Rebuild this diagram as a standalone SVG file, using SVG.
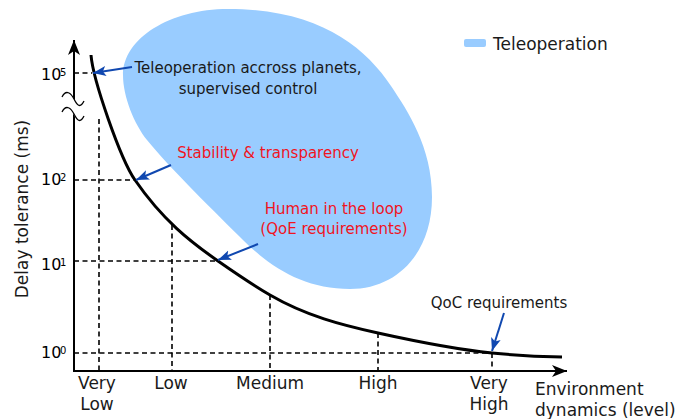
<svg xmlns="http://www.w3.org/2000/svg" width="696" height="419" viewBox="0 0 696 419">
<style>
text{font-family:"DejaVu Sans",sans-serif;fill:#1a1a1a}
.t15{font-size:15px}
.t17{font-size:17px}
.red{fill:#f0141e}
.tick{font-size:16px;fill:#000}
.sup{font-size:10px;fill:#000}
.dash{fill:none;stroke:#000;stroke-width:1.6;stroke-dasharray:5 3.5}
.ax{fill:none;stroke:#000;stroke-width:2}
.ann{fill:none;stroke:#1048b0;stroke-width:2}
</style>
<defs>
<marker id="bl" markerUnits="userSpaceOnUse" markerWidth="14" markerHeight="12" refX="13" refY="5" orient="auto">
<path d="M0,0 L13,5 L0,10 L3,5 z" fill="#1048b0"/>
</marker>
<marker id="ka" markerUnits="userSpaceOnUse" markerWidth="16" markerHeight="14" refX="15" refY="6" orient="auto">
<path d="M0,0 L15,6 L0,12 L4,6 z" fill="#000"/>
</marker>
</defs>

<g id="teleoperation-region">
<path fill="#99ccff" d="M123,75 C123,38.5 170,9 228,9 C318,9 364.3,46.1 391,86 C407.7,111 432,147 432,197 C432,252 398,289 350,289 C305,289 271.3,268.3 243,240 C218.3,215.3 168.9,167.3 147,140 C134.5,124.4 123,97 123,75 Z"/>
</g>

<g id="legend">
<rect x="464" y="39" width="22" height="8" rx="2" fill="#99ccff"/>
<text class="t17" x="493" y="50">Teleoperation</text>
</g>

<g id="grid">
<path class="dash" d="M74,73 H92 M74,180 H135 M74,261 H218 M74,353 H492"/>
<path class="dash" d="M99,119 V371 M172,225 V371 M270,295 V371 M378,333 V371 M492,353 V371"/>
</g>

<g id="axes">
<path class="ax" d="M74,372 V40" marker-end="url(#ka)"/>
<path class="ax" d="M73,371 H567" marker-end="url(#ka)"/>
<path d="M62,97 C66,89 71,93 74,99 S80,109 84,101 L84,116 C80,124 75,118 73,113 S66,103 62,112 Z" fill="#fff"/>
<path d="M62,97 C66,89 71,93 74,99 S80,109 84,101 M62,112 C66,104 71,108 74,114 S80,124 84,116" fill="none" stroke="#000" stroke-width="1.3"/>
</g>

<g id="curve">
<path d="M91,55 C93,80 120.33,158.7 135,180 C162.67,220.2 190.33,241.6 218,261 C235.33,273.1 252.67,284.9 270,295 C306,315.9 342,325.1 378,333 C416,341.4 454,349.2 492,353 C515.33,355.3 538.67,356.5 562,357" fill="none" stroke="#000" stroke-width="3"/>
</g>

<g id="y-ticks">
<text class="tick" x="41" y="80">10</text><text class="sup" x="60" y="76">5</text>
<text class="tick" x="41" y="185">10</text><text class="sup" x="60" y="181">2</text>
<text class="tick" x="41" y="270">10</text><text class="sup" x="60" y="266">1</text>
<text class="tick" x="41" y="358">10</text><text class="sup" x="60" y="354">0</text>
</g>

<g id="y-label">
<text class="t17" transform="translate(27.5,209) rotate(-90)" text-anchor="middle">Delay tolerance (ms)</text>
</g>

<g id="x-ticks" text-anchor="middle">
<text class="t17" x="97" y="389">Very</text><text class="t17" x="97" y="410">Low</text>
<text class="t17" x="171" y="389">Low</text>
<text class="t17" x="270" y="389">Medium</text>
<text class="t17" x="378" y="389">High</text>
<text class="t17" x="489" y="389">Very</text><text class="t17" x="489" y="410">High</text>
</g>

<g id="x-label">
<text class="t17" x="535" y="395">Environment</text>
<text class="t17" x="535" y="416">dynamics (level)</text>
</g>

<g id="label-planets" text-anchor="middle">
<text class="t15" x="248" y="73">Teleoperation accross planets,</text>
<text class="t15" x="248" y="94">supervised control</text>
</g>

<g id="label-stability" text-anchor="middle">
<text class="t15 red" x="268" y="158">Stability &amp; transparency</text>
</g>

<g id="label-human" text-anchor="middle">
<text class="t15 red" x="334" y="214">Human in the loop</text>
<text class="t15 red" x="334" y="234">(QoE requirements)</text>
</g>

<g id="label-qoc" text-anchor="middle">
<text class="t15" x="499" y="308">QoC requirements</text>
</g>

<g id="connectors">
<line class="ann" x1="132" y1="67" x2="93" y2="73" marker-end="url(#bl)"/>
<line class="ann" x1="171" y1="165" x2="136" y2="180" marker-end="url(#bl)"/>
<line class="ann" x1="258" y1="244" x2="218" y2="260" marker-end="url(#bl)"/>
<line class="ann" x1="504" y1="313" x2="492" y2="351" marker-end="url(#bl)"/>
</g>
</svg>
